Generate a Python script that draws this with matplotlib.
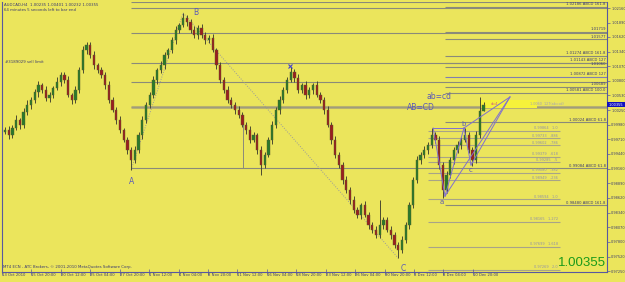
import matplotlib
matplotlib.use("Agg")
import matplotlib.pyplot as plt
from matplotlib.patches import Rectangle
from matplotlib import font_manager

# ---------------- data ----------------
symbol_info = "AUDCAD,H4  1.00235 1.00401 1.00232 1.00355"
timer_info = "64 minutes 5 seconds left to bar end"
order_info = "#3189029 sell limit"
copyright_info = "MT4 ECN - ATC Brokers, \u00a9 2001-2010 MetaQuotes Software Corp."
last_price = 1.00355
first_open = 0.9985

closes = [
    0.9988, 0.9979, 0.9992, 1.0007, 0.9998, 1.0022, 1.0035, 1.0044, 1.0059, 1.0072,
    1.0063, 1.0048, 1.0054, 1.0067, 1.0078, 1.0091, 1.0082, 1.0054, 1.0044, 1.0063,
    1.0100, 1.0138, 1.0147, 1.0128, 1.0110, 1.0100, 1.0091, 1.0072, 1.0044, 1.0026,
    1.0007, 0.9988, 0.9970, 0.9951, 0.9932, 0.9951, 0.9979, 1.0007, 1.0035, 1.0054,
    1.0082, 1.0100, 1.0110, 1.0128, 1.0138, 1.0156, 1.0175, 1.0184, 1.0197, 1.0190,
    1.0175, 1.0166, 1.0179, 1.0166, 1.0156, 1.0160, 1.0138, 1.0110, 1.0082, 1.0063,
    1.0044, 1.0035, 1.0026, 1.0016, 0.9998, 0.9988, 0.9970, 0.9979, 0.9951, 0.9923,
    0.9942, 0.9970, 0.9998, 1.0026, 1.0044, 1.0063, 1.0082, 1.0097, 1.0085, 1.0063,
    1.0072, 1.0054, 1.0063, 1.0072, 1.0054, 1.0044, 1.0026, 0.9998, 0.9970, 0.9942,
    0.9923, 0.9895, 0.9876, 0.9858, 0.9839, 0.9830, 0.9848, 0.9830, 0.9811, 0.9802,
    0.9792, 0.9811, 0.9820, 0.9802, 0.9792, 0.9774, 0.9764, 0.9783, 0.9811, 0.9848,
    0.9895, 0.9932, 0.9942, 0.9951, 0.9960, 0.9979, 0.9970, 0.9923, 0.9876, 0.9904,
    0.9932, 0.9951, 0.9960, 0.9970, 0.9979, 0.9951, 0.9932, 0.9979, 1.0024, 1.00355,
]
# upper / lower shadows in pips (0.0001)
wick_up = [
    6, 8, 5, 10, 4, 7, 9, 5, 6, 8,
    5, 7, 6, 4, 9, 6, 5, 8, 4, 7,
    6, 8, 6, 5, 7, 4, 6, 5, 8, 6,
    5, 7, 4, 6, 5, 8, 6, 7, 5, 6,
    8, 5, 7, 6, 4, 6, 8, 5, 10, 6,
    5, 7, 6, 8, 5, 6, 7, 4, 6, 5,
    8, 6, 5, 7, 6, 5, 8, 6, 4, 7,
    5, 6, 8, 5, 7, 6, 5, 9, 6, 8,
    5, 7, 6, 4, 8, 6, 5, 7, 6, 8,
    5, 6, 7, 5, 8, 6, 4, 7, 6, 5,
    8, 47, 6, 5, 7, 6, 5, 8, 6, 5,
    6, 7, 5, 8, 6, 13, 5, 7, 6, 8,
    5, 6, 7, 5, 13, 6, 5, 7, 26, 5,
]
wick_dn = [
    5, 7, 6, 4, 8, 6, 5, 7, 6, 9,
    6, 5, 7, 6, 4, 8, 6, 5, 7, 6,
    5, 6, 8, 5, 7, 6, 5, 8, 6, 5,
    7, 6, 5, 8, 18, 6, 5, 7, 6, 5,
    6, 8, 5, 7, 6, 5, 8, 6, 4, 7,
    5, 6, 8, 5, 7, 6, 4, 8, 6, 5,
    6, 5, 7, 6, 5, 8, 6, 5, 7, 19,
    6, 5, 7, 6, 8, 5, 6, 4, 7, 6,
    5, 8, 6, 7, 5, 6, 8, 5, 7, 6,
    5, 7, 6, 8, 5, 6, 7, 5, 8, 6,
    5, 6, 7, 5, 8, 6, 15, 6, 5, 7,
    6, 5, 8, 6, 7, 5, 6, 7, 15, 6,
    5, 7, 6, 8, 5, 6, 11, 5, 6, 1,
]

price_ticks = [1.02160, 1.01890, 1.01620, 1.01340, 1.01070, 1.00800, 1.00530,
               1.00250, 0.99980, 0.99710, 0.99440, 0.99160, 0.98890, 0.98620,
               0.98340, 0.98070, 0.97800, 0.97520, 0.97250]
date_labels = ["13 Oct 2010", "15 Oct 20:00", "20 Oct 12:00", "25 Oct 04:00",
               "27 Oct 20:00", "1 Nov 12:00", "4 Nov 04:00", "8 Nov 20:00",
               "11 Nov 12:00", "16 Nov 04:00", "18 Nov 20:00", "23 Nov 12:00",
               "26 Nov 04:00", "30 Nov 20:00", "3 Dec 12:00", "8 Dec 04:00",
               "10 Dec 20:00"]

# long horizontal levels starting at point A
long_levels = [1.0227, 1.0216, 1.0169, 1.0113, 1.0078, 0.9917]
long_level_thick = [1.0031]
# ABCD projection levels (start near point a), with labels
abcd_levels = [1.02186, 1.01719, 1.01577, 1.01274, 1.01143, 1.01060, 1.00872,
               1.00689, 1.00581, 1.00024, 0.98480]
abcd_labels = ["1.02186 ABCD 161.8", "1.01719", "1.01577", "1.01274 ABCD 161.8",
               "1.01143 ABCD 127", "1.01060", "1.00872 ABCD 127", "1.00689",
               "1.00581 ABCD 100.0", "1.00024 ABCD 61.8", "0.98480 ABCD 161.8"]
label_0991 = "0.99084 ABCD 61.8"
# fibonacci levels of the small pattern
fib_levels = [0.99864, 0.99733, 0.99602, 0.99379, 0.99285, 0.99080, 0.98949,
              0.98594, 0.98165, 0.97699, 0.97269]
fib_labels = ["0.99864   1.0", "0.99733   .886", "0.99602   .786", "0.99379   .618",
              "0.99285   .5", "0.99080   .382", "0.98949   .236",
              "0.98594   1.0", "0.98165   1.272", "0.97699   1.618", "0.97269   2.0"]

# pattern points (candle index, price)
A_pt = (34, 0.9914)
B_pt = (48, 1.0207)
X_pt = (76.8, 1.0108)
C_pt = (106, 0.9749)
small_a = (118.6, 0.9865)
small_p = (115.4, 0.9992)
small_b = (123.7, 0.9992)
small_c = (125.6, 0.9923)
small_d = (136.1, 1.0050)

# ---------------- style ----------------
avail = {f.name for f in font_manager.fontManager.ttflist}
if "Liberation Sans Narrow" in avail:
    small_font, sf = "Liberation Sans Narrow", 1.0
else:
    small_font, sf = "DejaVu Sans", 0.78
big_font = "Liberation Sans" if "Liberation Sans" in avail else "DejaVu Sans"

W, H = 625, 282
bg = "#ebe55c"
axis_col = "#5858a0"
txt_col = "#3a3a70"
lvl_col = "#8a8a7a"
olive = "#b8b070"
XL, XR = -0.81, 162.26

fig = plt.figure(figsize=(W / 100, H / 100), dpi=100)
fig.patch.set_facecolor(bg)
ax = fig.add_axes([2 / W, 1 - 272 / H, 605 / W, 270 / H])
ax.set_facecolor(bg)
ax.set_xlim(XL, XR)
ax.set_ylim(0.97232, 1.02273)

n = len(closes)
opens = [first_open] + closes[:-1]
idx = list(range(n))
highs = [max(o, c) + u * 1e-4 for o, c, u in zip(opens, closes, wick_up)]
lows = [min(o, c) - d * 1e-4 for o, c, d in zip(opens, closes, wick_dn)]

def stext(x, y, s, size=3.5, **kw):
    kw.setdefault("color", txt_col)
    return ax.text(x, y, s, fontsize=size * sf, family=small_font, **kw)

# horizontal levels
xa = A_pt[0]
for p in long_levels:
    ax.hlines(p, xa, XR, color=lvl_col, lw=0.8, zorder=1)
for p in long_level_thick:
    ax.hlines(p, xa, XR, color=olive, lw=2.2, zorder=1)
    ax.hlines(p, xa, XR, color="#9a9a80", lw=0.6, zorder=1)
for p, lab in zip(abcd_levels, abcd_labels):
    c = "#8080b0" if "127" in lab and p < 1.01 else lvl_col
    ax.hlines(p, small_a[0], XR, color=c, lw=0.8, zorder=1)
    stext(161.9, p + 0.00012, lab, ha="right", va="bottom", zorder=5)
stext(161.9, long_levels[-1] + 0.00012, label_0991, ha="right", va="bottom", zorder=5)
for p, lab in zip(fib_levels, fib_labels):
    ax.hlines(p, small_p[0] - 1.5, 149.5, color="#a8a488", lw=0.8, zorder=1)
    stext(149.0, p + 0.00010, lab, size=3.3, color="#9090a8", ha="right", va="bottom", zorder=5)

# vertical guide line
ax.vlines(64.2, 0.9917, 1.0007, color=lvl_col, lw=0.7, zorder=1)

# highlight box near d
ax.add_patch(Rectangle((128.0, 1.0029), 15.4, 0.0015, facecolor="#f6f23a",
                       edgecolor="none", zorder=1.5))
stext(131, 1.0036, "d=4", size=3.3, color="#d05080", va="center", zorder=5)
stext(141.5, 1.0036, "1.0060  127(ab=cd)", size=3.1, color="#a0a0b8", va="center", zorder=5)

# ABCD dotted lines
ax.plot([A_pt[0], B_pt[0]], [A_pt[1], B_pt[1]], color="#9a9a9a", lw=0.7, ls=(0, (1, 1.5)), zorder=1)
ax.plot([B_pt[0], C_pt[0]], [B_pt[1], C_pt[1]], color="#9a9a9a", lw=0.7, ls=(0, (1, 1.5)), zorder=1)

# candles
for i in idx:
    o, c, h, l = opens[i], closes[i], highs[i], lows[i]
    ax.vlines(i, l, h, color="#4a4a30", lw=0.7, zorder=2)
    col = "#2a7a2a" if c >= o else "#9a1f1f"
    ax.bar(i, max(abs(c - o), 0.00008), bottom=min(o, c), width=0.62, color=col,
           edgecolor="#5a5a30", linewidth=0.3, zorder=3)

# small pattern (purple)
pc = "#8070d0"
for p1, p2 in [(small_p, small_b), (small_p, small_a), (small_a, small_b),
               (small_b, small_c), (small_c, small_d), (small_b, small_d),
               (small_a, small_d)]:
    ax.plot([p1[0], p2[0]], [p1[1], p2[1]], color=pc, lw=0.7, zorder=4)

# pattern labels
lab_col = "#5a5ab8"
ax.text(A_pt[0], A_pt[1] - 0.0013, "A", fontsize=5.5, color=lab_col, ha="center", va="top", zorder=6)
ax.text(B_pt[0] + 3.5, B_pt[1] + 0.0001, "B", fontsize=5.5, color=lab_col, ha="center", va="center", zorder=6)
ax.plot([X_pt[0]], [X_pt[1]], marker="x", ms=3, color="#4040d0", mew=0.8, zorder=6)
ax.text(C_pt[0] + 1.3, C_pt[1] - 0.0011, "C", fontsize=5.5, color=lab_col, ha="center", va="top", zorder=6)
ax.text(small_a[0] - 1, small_a[1] - 0.0005, "a", fontsize=5, color=lab_col, ha="center", va="top", zorder=6)
ax.text(small_b[0], small_b[1] + 0.0001, "b", fontsize=5, color=lab_col, ha="center", va="bottom", zorder=6)
ax.text(small_c[0], small_c[1] - 0.0004, "c", fontsize=5, color=lab_col, ha="center", va="top", zorder=6)
ax.text(113.5, 1.0051, "ab=cd", fontsize=5.5, color=lab_col, ha="left", va="center", zorder=6)
ax.text(108.3, 1.0031, "AB=CD", fontsize=5.5, color=lab_col, ha="left", va="center", zorder=6)

# axes styling
ax.spines["top"].set_visible(False)
for s in ["left", "right", "bottom"]:
    ax.spines[s].set_color(axis_col)
    ax.spines[s].set_linewidth(0.8)
ax.yaxis.tick_right()
ax.set_yticks(price_ticks)
ax.set_yticklabels([f"{p:.5f}" for p in price_ticks])
ax.tick_params(axis="y", labelsize=3.2 * sf, length=2, width=0.5, pad=1, colors=axis_col,
               labelcolor=txt_col)
tick_pos = [-0.8 + 7.93 * k for k in range(len(date_labels))]
ax.set_xticks(tick_pos)
ax.set_xticklabels(date_labels)
ax.tick_params(axis="x", labelsize=3.5 * sf, length=4, width=0.5, pad=-1, colors=axis_col,
               labelcolor=txt_col, direction="inout")
for t in ax.get_xticklabels() + ax.get_yticklabels():
    t.set_family(small_font)
for t in ax.get_xticklabels():
    t.set_ha("left")

# current price marker on the price scale
fig.patches.append(Rectangle((607 / W, 1 - 107 / H), 18 / W, 5 / H, transform=fig.transFigure,
                             facecolor="#1010c0", edgecolor="none", zorder=10))
fig.text(609 / W, 1 - 104.5 / H, f"{last_price:.5f}", fontsize=3.2 * sf, family=small_font,
         color="white", va="center", ha="left", zorder=11)

# texts
for (px, py, s) in [(4, 5, symbol_info), (4, 10, timer_info), (5, 62, order_info),
                    (3, 267, copyright_info)]:
    fig.text(px / W, 1 - py / H, s, fontsize=3.6 * sf, family=small_font, color=txt_col, va="center")
fig.text(606 / W, 1 - 263 / H, f"{last_price:.5f}", fontsize=9.5, family=big_font,
         color="#1a9a1a", ha="right", va="center")

fig.savefig("out.png", dpi=100, facecolor=bg)
